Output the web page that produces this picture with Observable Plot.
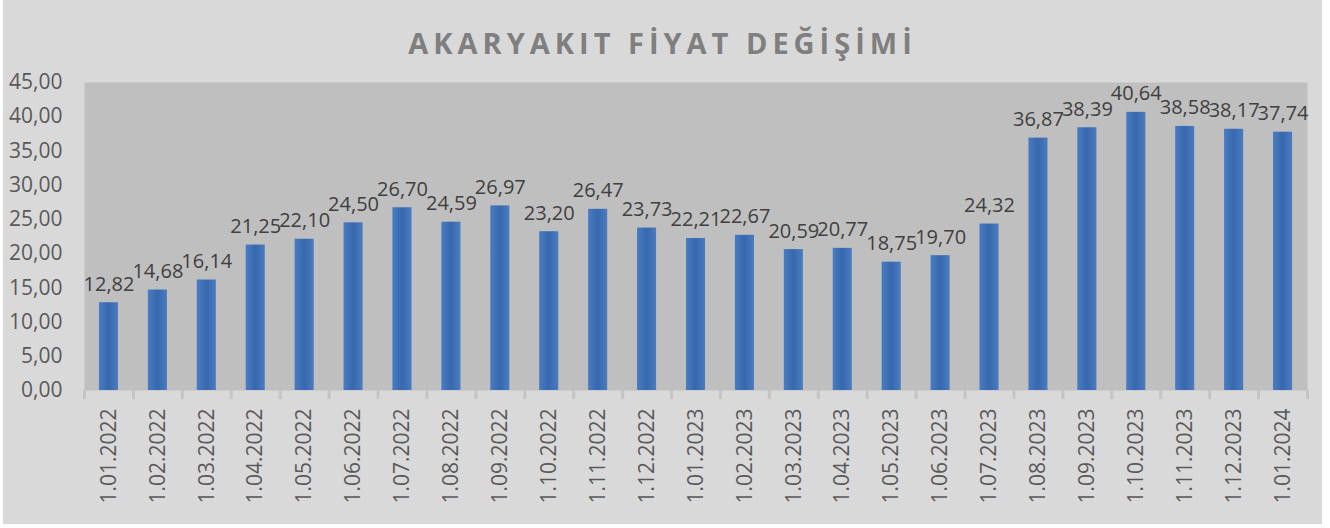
<!DOCTYPE html>
<html>
<head>
<meta charset="utf-8">
<script src="https://cdn.jsdelivr.net/npm/d3@7"></script>
<script src="https://cdn.jsdelivr.net/npm/@observablehq/plot@0.6"></script>
<style>
  html, body { margin: 0; padding: 0; background: #ffffff; }
  #chart { position: absolute; left: 3px; top: 0; width: 1319px; height: 524px; background: #d9d9d9; }
  #title { box-sizing: border-box; height: 60px; padding-top: 29px; line-height: 28px; text-align: center;
           font-family: "Open Sans", sans-serif; font-weight: 700; font-size: 29px; letter-spacing: 5px;
           color: #7f7f7f; white-space: nowrap; }
  #chart svg { display: block; }
</style>
</head>
<body>
<div id="chart"><div id="title">AKARYAKIT FİYAT DEĞİŞİMİ</div></div>
<script>
const dates = ["1.01.2022","1.02.2022","1.03.2022","1.04.2022","1.05.2022","1.06.2022","1.07.2022","1.08.2022","1.09.2022","1.10.2022","1.11.2022","1.12.2022","1.01.2023","1.02.2023","1.03.2023","1.04.2023","1.05.2023","1.06.2023","1.07.2023","1.08.2023","1.09.2023","1.10.2023","1.11.2023","1.12.2023","1.01.2024"];
const prices = [12.82,14.68,16.14,21.25,22.10,24.50,26.70,24.59,26.97,23.20,26.47,23.73,22.21,22.67,20.59,20.77,18.75,19.70,24.32,36.87,38.39,40.64,38.58,38.17,37.74];
const yTicks = [0,5,10,15,20,25,30,35,40,45];

const data = dates.map((d, i) => ({date: d, value: prices[i]}));
const fmt = v => v.toFixed(2).replace(".", ",");

const W = 1319, H = 464, mL = 81, mR = 15, mT = 22, mB = 134;
const step = (W - mL - mR) / dates.length;
const yPerPx = 45 / (H - mT - mB);

const plot = Plot.plot({
  width: W, height: H,
  marginLeft: mL, marginRight: mR, marginTop: mT, marginBottom: mB,
  style: {background: "transparent", fontFamily: "'Open Sans', sans-serif"},
  x: {domain: dates, paddingInner: 0.61, paddingOuter: 0.305, round: false, label: null},
  y: {domain: [0, 45], label: null},
  marks: [
    Plot.frame({fill: "#bfbfbf", stroke: null}),
    Plot.ruleX(dates, {x: d => d, dx: -step / 2, y1: 0, y2: -9 * yPerPx, stroke: "#c4c4c4", strokeWidth: 3}),
    Plot.ruleX([dates[dates.length - 1]], {x: d => d, dx: step / 2, y1: 0, y2: -9 * yPerPx, stroke: "#c4c4c4", strokeWidth: 3}),
    Plot.barY(data, {x: "date", y: "value", fill: "url(#barGrad)"}),
    Plot.text(data, {x: "date", y: "value", text: d => fmt(d.value), lineAnchor: "bottom", dy: -12,
                     fontSize: 20, fill: "#404040"}),
    Plot.axisY({ticks: yTicks, tickFormat: fmt, tickSize: 0, tickPadding: 22, fontSize: 21, fill: "#595959", label: null}),
    Plot.axisX({tickRotate: -90, tickSize: 0, tickPadding: 18, fontSize: 21, fill: "#595959", label: null})
  ]
});

d3.select(plot).insert("defs", ":first-child").html(
  '<linearGradient id="barGrad" x1="0" x2="1" y1="0" y2="0">' +
  '<stop offset="0" stop-color="#4a7cc2"/>' +
  '<stop offset="0.5" stop-color="#3768ad"/>' +
  '<stop offset="1" stop-color="#4a7cc2"/>' +
  '</linearGradient>'
);
document.getElementById("chart").appendChild(plot);
</script>
</body>
</html>
